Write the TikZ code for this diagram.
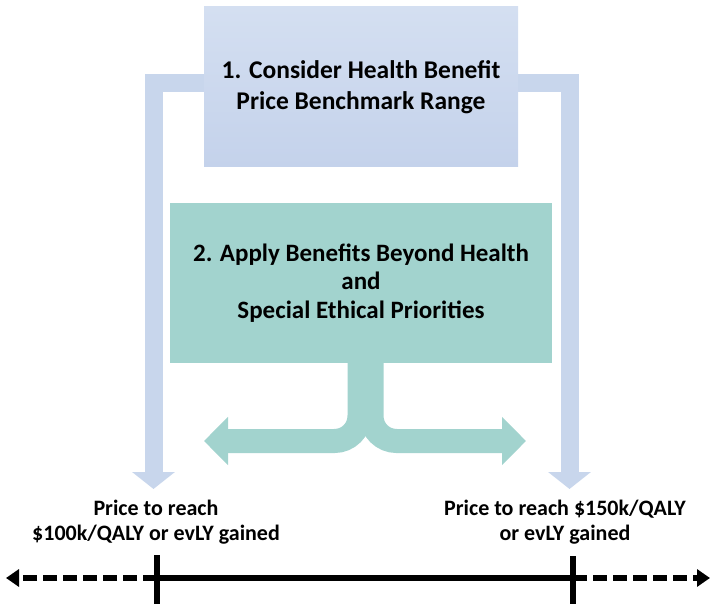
\documentclass[tikz,border=0pt]{standalone}
\usepackage{fontspec}
\setmainfont{Carlito}
\usetikzlibrary{arrows.meta,positioning}

\definecolor{bluetop}{RGB}{212,223,241}
\definecolor{bluebot}{RGB}{196,210,235}
\definecolor{bluearm}{RGB}{200,214,236}
\definecolor{tealbox}{RGB}{162,211,206}

\begin{document}
\begin{tikzpicture}[x=1pt,y=-1pt,
  stage one/.style={minimum width=314pt,minimum height=160pt,inner sep=0pt,align=center,top color=bluetop,bottom color=bluebot,font=\bfseries\fontsize{25.5}{31}\selectfont},
  stage two/.style={minimum width=382pt,minimum height=160pt,inner sep=0pt,align=center,fill=tealbox,font=\bfseries\fontsize{25}{28.5}\selectfont},
  price label/.style={inner sep=0pt,align=center,font=\bfseries\fontsize{22}{25}\selectfont},
  blue arm/.style={draw=bluearm,line width=18pt,-{Triangle[width=42pt,length=17pt]}},
  teal arm/.style={draw=tealbox,line width=24pt,rounded corners=25pt,-{Triangle[width=47pt,length=24pt]}},
  axis line/.style={line width=6.5pt},
  axis tail/.style={line width=6pt,dash pattern=on 14pt off 6pt,-{Triangle[width=17pt,length=13pt]}},
  tick mark/.style={line width=5.5pt}]

  \useasboundingbox (0,0) rectangle (713,604);

  % axis ticks and ends
  \coordinate (tickL) at (157,578);
  \coordinate (tickR) at (573,578);
  \coordinate (endL) at (6,578);
  \coordinate (endR) at (710,578);

  \node[price label] (lo) at (156,522) {Price to reach\\\$100k/QALY or evLY gained};
  \node[price label] (hi) at (565,522) {Price to reach \$150k/QALY\\or evLY gained};

  \coordinate (tipL) at (153.5,489);
  \coordinate (tipR) at (569.5,489);

  % blue arms go under box 1
  \draw[blue arm] (204,83.5) -| (tipL);
  \draw[blue arm] (518,83.5) -| (tipR);

  \node[stage one] (one) at (361,87) {1. Consider Health Benefit\\Price Benchmark Range};
  \node[stage two] (two) at (361,283) {2. Apply Benefits Beyond Health\\and\\Special Ethical Priorities};

  \coordinate (leftT) at (204,441);
  \coordinate (rightT) at (526,441);
  \draw[teal arm] ([xshift=-1.5pt,yshift=1pt]two.south) |- (leftT);
  \draw[teal arm] ([xshift=10.5pt,yshift=1pt]two.south) |- (rightT);

  % price axis
  \draw[axis line] (tickL) -- (tickR);
  \draw[axis tail] (tickL) -- (endL);
  \draw[axis tail] (tickR) -- (endR);
  \draw[tick mark] (tickL |- 0,555) -- (tickL |- 0,604);
  \draw[tick mark] (tickR |- 0,556) -- (tickR |- 0,604);
\end{tikzpicture}
\end{document}
